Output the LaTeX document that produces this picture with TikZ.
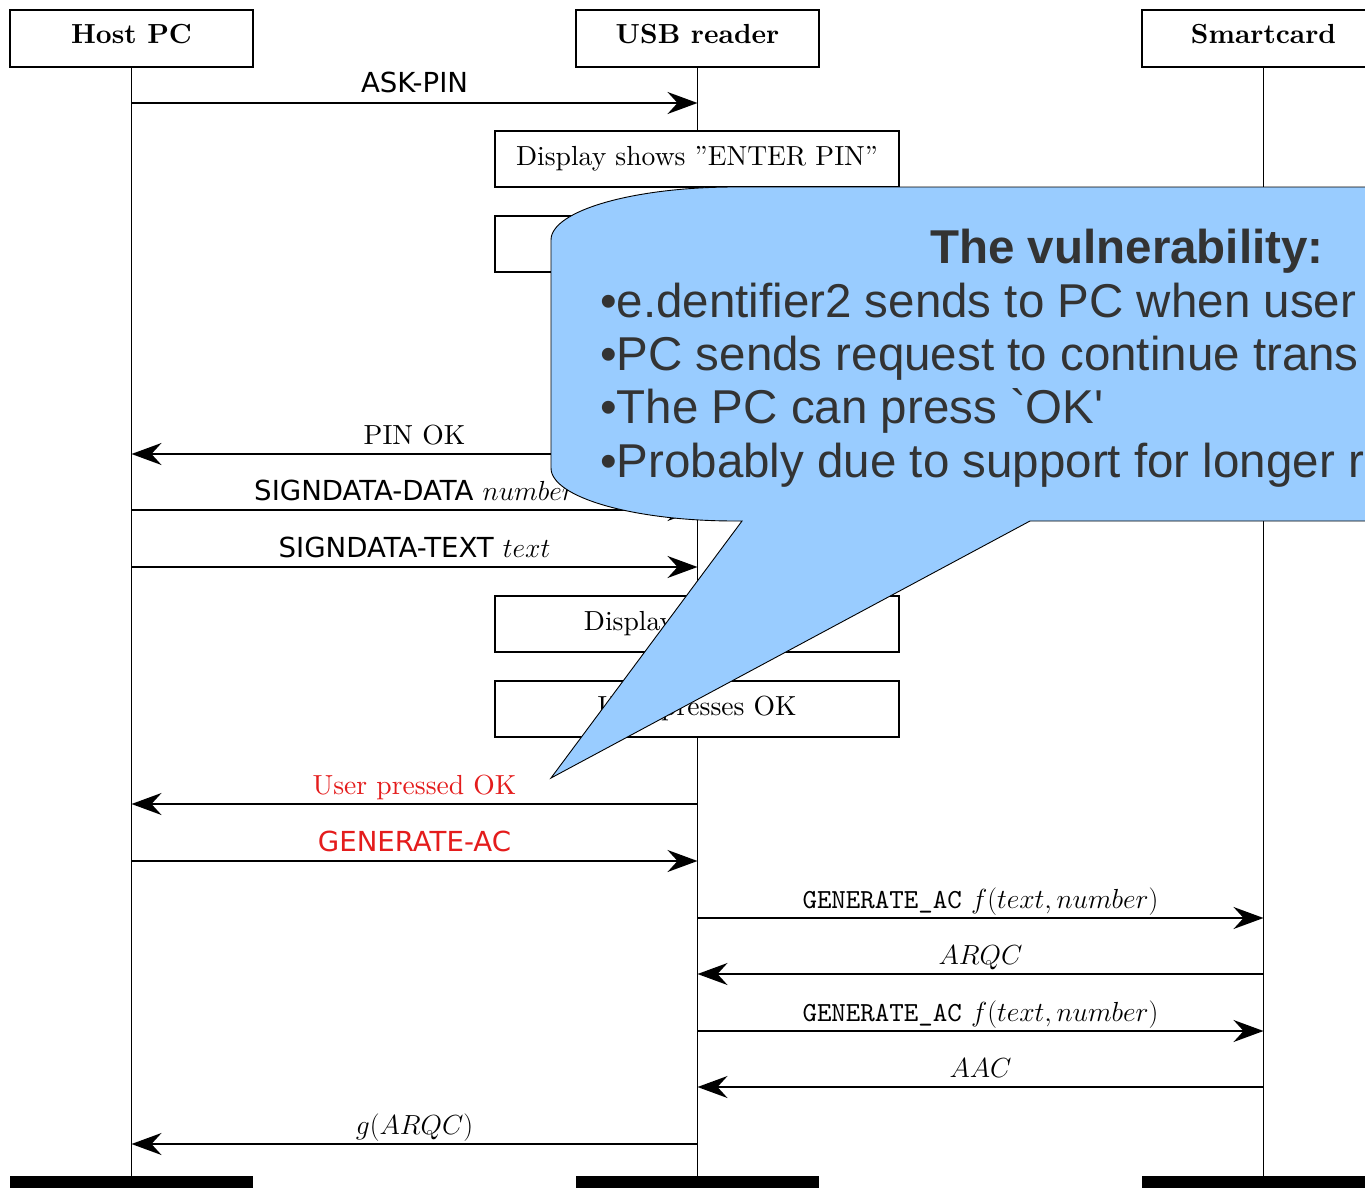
\documentclass[tikz,border=0pt]{standalone}
\usepackage{fix-cm}
\usepackage{fontspec}
\setmainfont{lmroman10-regular.otf}[BoldFont=lmroman10-bold.otf, ItalicFont=lmroman10-italic.otf, BoldItalicFont=lmroman10-bolditalic.otf]
\setmonofont{lmmono10-regular.otf}
\newfontfamily\labsans{DejaVu Sans}
\newfontfamily\calloutfont[Ligatures=TeXOff]{Liberation Sans}
\usetikzlibrary{arrows.meta}
\definecolor{calloutblue}{HTML}{99CCFF}
\definecolor{callouttext}{HTML}{333333}
\definecolor{msgred}{RGB}{228,28,28}
\begin{document}
\begin{tikzpicture}[x=1pt,y=-1pt,
  every node/.style={font=\fontsize{27.6}{33}\selectfont},
  head/.style={draw, line width=1.6pt, fill=white, minimum width=243pt, minimum height=57pt,
    inner sep=0pt, text height=19pt, text depth=8pt, font=\fontsize{27.6}{33}\selectfont\bfseries},
  actbox/.style={draw, line width=1.6pt, fill=white, minimum width=404pt, minimum height=56pt,
    inner sep=0pt, text height=19pt, text depth=7pt},
  endbar/.style={fill=black, minimum width=243pt, minimum height=14pt, inner sep=0pt},
  life/.style={line width=1.5pt},
  msg/.style={line width=1.8pt, -{Stealth[length=30pt,width=22pt,inset=10pt]}},
  lab/.style={anchor=base, yshift=10pt, inner sep=0pt},
  callout/.style={fill=calloutblue, draw=black, line width=0.9pt},
  ctitle/.style={anchor=base, inner sep=0pt, text=callouttext,
    font=\fontsize{47.5}{54}\calloutfont\bfseries},
  cline/.style={anchor=base west, inner sep=0pt, text=callouttext,
    font=\fontsize{47.5}{54}\calloutfont}]
\useasboundingbox (0,0) rectangle (1365,1188);
\clip (0,0) rectangle (1365,1188);

% participants
\node[head] (host) at (131.5,38.5) {Host PC};
\node[head] (usb) at (697.5,38.5) {USB reader};
\node[head] (card) at (1263.5,38.5) {Smartcard};
\node[endbar] (hostend) at (131.5,1183) {};
\node[endbar] (usbend) at (697.5,1183) {};
\node[endbar] (cardend) at (1263.5,1183) {};

% lifelines
\draw[life] (host.south) -- (hostend.north);
\draw[life] (usb.south) -- (usbend.north);
\draw[life] (card.south) -- (cardend.north);

% action boxes
\node[actbox] (b1) at (697,159) {Display shows ''ENTER PIN''};
\node[actbox] (b2) at (697,244) {};
\node[actbox] (b3) at (697,624) {Display shows $text$};
\node[actbox] (b4) at (697,709) {User presses OK};

% message end points
\coordinate (h1) at (131.5,103);  \coordinate (u1) at (697.5,103);
\coordinate (h2) at (131.5,454);  \coordinate (u2) at (697.5,454);
\coordinate (h3) at (131.5,510);  \coordinate (u3) at (697.5,510);
\coordinate (h4) at (131.5,567);  \coordinate (u4) at (697.5,567);
\coordinate (h5) at (131.5,804);  \coordinate (u5) at (697.5,804);
\coordinate (h6) at (131.5,861);  \coordinate (u6) at (697.5,861);
\coordinate (u7) at (697.5,918);  \coordinate (c7) at (1263.5,918);
\coordinate (u8) at (697.5,974);  \coordinate (c8) at (1263.5,974);
\coordinate (u9) at (697.5,1031); \coordinate (c9) at (1263.5,1031);
\coordinate (u10) at (697.5,1087); \coordinate (c10) at (1263.5,1087);
\coordinate (h11) at (131.5,1144); \coordinate (u11) at (697.5,1144);

% messages
\draw[msg] (h1) -- node[lab] (l1) {\labsans ASK-PIN} (u1);
\draw[msg] (u2) -- node[lab] (l2) {PIN OK} (h2);
\draw[msg] (h3) -- node[lab] (l3) {{\labsans SIGNDATA-DATA} $number$} (u3);
\draw[msg] (h4) -- node[lab] (l4) {{\labsans SIGNDATA-TEXT} $text$} (u4);
\draw[msg] (u5) -- node[lab, text=msgred] (l5) {User pressed OK} (h5);
\draw[msg] (h6) -- node[lab, text=msgred] (l6) {\labsans GENERATE-AC} (u6);
\draw[msg] (u7) -- node[lab] (l7) {\texttt{GENERATE\_AC} $f(text, number)$} (c7);
\draw[msg] (c8) -- node[lab] (l8) {$ARQC$} (u8);
\draw[msg] (u9) -- node[lab] (l9) {\texttt{GENERATE\_AC} $f(text, number)$} (c9);
\draw[msg] (c10) -- node[lab] (l10) {$AAC$} (u10);
\draw[msg] (u11) -- node[lab] (l11) {$g(ARQC)$} (h11);

% callout
\draw[callout] (551,240) .. controls (551,210.7) and (633.4,187) .. (735,187)
  -- (1400,187) -- (1400,521) -- (1030,521) -- (551,778) -- (742,521) -- (735,521)
  .. controls (633.4,521) and (551,497.3) .. (551,468) -- cycle;
\node[ctitle] (vt) at (1127,263) {The vulnerability:};
\node[cline] (v1) at (600,317) {•e.dentifier2 sends to PC when user};
\node[cline] (v2) at (600,370) {•PC sends request to continue trans};
\node[cline] (v3) at (600,423) {•The PC can press `OK'};
\node[cline] (v4) at (600,477) {•Probably due to support for longer r};
\end{tikzpicture}
\end{document}
